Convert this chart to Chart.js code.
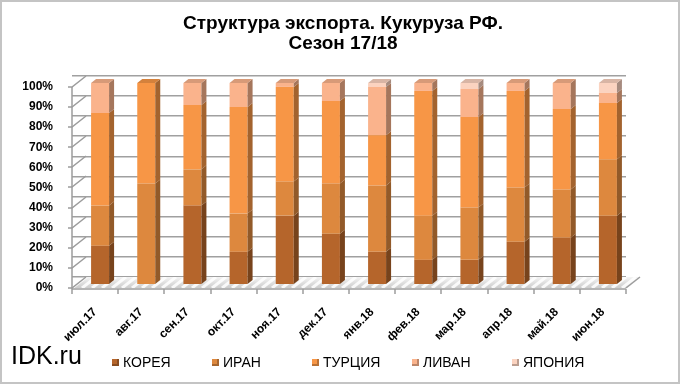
<!DOCTYPE html>
<html lang="ru">
<head>
<meta charset="UTF-8">
<title>Структура экспорта. Кукуруза РФ.</title>
<script src="https://cdn.jsdelivr.net/npm/chart.js"></script>
<style>
    body { margin: 0; background: #fff; }
    #wrap { position: relative; width: 680px; height: 384px; }
    #frame {
        position: absolute; left: 0; top: 0; width: 676px; height: 380px;
        border: 2px solid #c4c4c4; pointer-events: none;
    }
    #site {
        position: absolute; left: 11px; top: 341px;
        font-family: "Liberation Sans", Arial, sans-serif; font-size: 25px; color: #000;
    }
    #legend {
        position: absolute; left: 112px; top: 354px; display: flex;
        font-family: "Liberation Sans", Arial, sans-serif; font-size: 14px; color: #000;
    }
    #legend .item { width: 100px; display: flex; align-items: center; }
    #legend .box { width: 7px; height: 7px; margin-right: 4px; }
</style>
</head>
<body>
<div id="wrap">
    <canvas id="chart" width="680" height="384"></canvas>
    <div id="site">IDK.ru</div>
    <div id="legend"></div>
    <div id="frame"></div>
</div>
<script>
// данные (доли, %)
var months = ['июл.17', 'авг.17', 'сен.17', 'окт.17', 'ноя.17', 'дек.17', 'янв.18', 'фев.18', 'мар.18', 'апр.18', 'май.18', 'июн.18'];
var korea   = [19,  0, 39, 16, 34, 25, 16, 12, 12, 21, 23, 34];
var iran    = [20, 50, 18, 19, 17, 25, 33, 22, 26, 27, 24, 28];
var turkey  = [46, 50, 32, 53, 47, 41, 25, 62, 45, 48, 40, 28];
var lebanon = [15,  0, 11, 12,  2,  9, 24,  4, 14,  4, 13,  5];
var japan   = [ 0,  0,  0,  0,  0,  0,  2,  0,  3,  0,  0,  5];
var seriesNames = ['КОРЕЯ', 'ИРАН', 'ТУРЦИЯ', 'ЛИВАН', 'ЯПОНИЯ'];
var seriesColors = ['#B5652B', '#DD883E', '#F79646', '#FAB38C', '#FBD3C0'];
var yTicks = [0, 10, 20, 30, 40, 50, 60, 70, 80, 90, 100];

// глубина "3D"
var wallDx = 14, wallDy = -11;
var wallShift = 5.47;   // сдвиг задней стенки в единицах оси (≈11 px)
var barDx = 5, barDy = -4;

function shade(hex, k) {
    var r = parseInt(hex.substr(1, 2), 16), g = parseInt(hex.substr(3, 2), 16), b = parseInt(hex.substr(5, 2), 16);
    return 'rgb(' + Math.round(r * k) + ',' + Math.round(g * k) + ',' + Math.round(b * k) + ')';
}

function seg(ctx, pts) {
    ctx.beginPath();
    ctx.moveTo(pts[0][0], pts[0][1]);
    for (var i = 1; i < pts.length; i++) ctx.lineTo(pts[i][0], pts[i][1]);
    ctx.stroke();
}

// пол, косые связки сетки и оси — до столбцов
var wallPlugin = {
    id: 'wall3d',
    beforeDatasetsDraw: function (chart) {
        var ctx = chart.ctx, a = chart.chartArea, y = chart.scales.y;
        var y0 = Math.round(y.getPixelForValue(0));
        var left = Math.round(a.left), right = Math.round(a.right);
        ctx.save();
        // пол
        var floor = [[left, y0], [right, y0], [right + wallDx, y0 + wallDy], [left + wallDx, y0 + wallDy]];
        var grad = ctx.createLinearGradient(0, y0 + wallDy, 0, y0);
        grad.addColorStop(0, '#f4f4f4');
        grad.addColorStop(1, '#cccccc');
        ctx.save();
        ctx.beginPath();
        floor.forEach(function (p, i) { if (i) ctx.lineTo(p[0], p[1]); else ctx.moveTo(p[0], p[1]); });
        ctx.closePath();
        ctx.fillStyle = grad;
        ctx.fill();
        ctx.clip();
        ctx.strokeStyle = 'rgba(255,255,255,0.85)';
        ctx.lineWidth = 3;
        for (var sx = left - 20; sx < right + 30; sx += 10) {
            seg(ctx, [[sx, y0], [sx + 14, y0 + wallDy]]);
        }
        ctx.restore();
        ctx.strokeStyle = '#9c9c9c';
        ctx.lineWidth = 1.5;
        for (var k = 0; k < yTicks.length; k++) {
            var py = Math.round(y.getPixelForValue(yTicks[k]));
            seg(ctx, [[left - 4, py], [left, py], [left + wallDx, py + wallDy]]);
        }
        seg(ctx, [[right, y0], [right + wallDx, y0 + wallDy]]);
        // оси
        seg(ctx, [[left, Math.round(y.getPixelForValue(100))], [left, y0 + 1]]);
        seg(ctx, [[left, y0 + 1], [right, y0 + 1]]);
        var step = (a.right - a.left) / months.length;
        for (var i = 0; i <= months.length; i++) {
            var tx = Math.round(a.left + i * step);
            seg(ctx, [[tx, y0 + 1], [tx, y0 + 6]]);
        }
        ctx.restore();
    }
};

// боковые и верхние грани столбцов
var barPlugin = {
    id: 'bar3d',
    beforeDatasetsDraw: function (chart) {
        chart.ctx.save();
        chart.ctx.translate(barDx, barDy);
    },
    afterDatasetsDraw: function (chart) {
        var ctx = chart.ctx;
        var n = chart.data.datasets.length;
        months.forEach(function (m, i) {
            var topIdx = -1;
            for (var d = 0; d < n; d++) {
                if (chart.data.datasets[d].data[i] > 0) topIdx = d;
            }
            for (var d = 0; d < n; d++) {
                if (!(chart.data.datasets[d].data[i] > 0)) continue;
                var el = chart.getDatasetMeta(d).data[i];
                var r = el.x + el.width / 2, l = el.x - el.width / 2;
                ctx.fillStyle = shade(seriesColors[d], 0.66);
                ctx.beginPath();
                ctx.moveTo(r, el.y);
                ctx.lineTo(r + barDx, el.y + barDy);
                ctx.lineTo(r + barDx, el.base + barDy);
                ctx.lineTo(r, el.base);
                ctx.closePath();
                ctx.fill();
                if (d === topIdx) {
                    ctx.fillStyle = shade(seriesColors[d], 0.86);
                    ctx.beginPath();
                    ctx.moveTo(l, el.y);
                    ctx.lineTo(r, el.y);
                    ctx.lineTo(r + barDx, el.y + barDy);
                    ctx.lineTo(l + barDx, el.y + barDy);
                    ctx.closePath();
                    ctx.fill();
                }
            }
        });
        ctx.restore();
    }
};

var seriesData = [korea, iran, turkey, lebanon, japan];
var datasets = seriesNames.map(function (name, i) {
    return { label: name, data: seriesData[i], backgroundColor: seriesColors[i], borderWidth: 0 };
});

var ctx = document.getElementById('chart').getContext('2d');
new Chart(ctx, {
    type: 'bar',
    data: { labels: months, datasets: datasets },
    plugins: [wallPlugin, barPlugin],
    options: {
        responsive: false,
        animation: false,
        layout: { padding: { left: 6, right: 0, top: 0, bottom: 0 } },
        datasets: { bar: { categoryPercentage: 1, barPercentage: 0.39 } },
        plugins: {
            legend: { display: false },
            tooltip: { enabled: false },
            title: {
                display: true,
                text: ['Структура экспорта. Кукуруза РФ.', 'Сезон 17/18'],
                color: '#000',
                font: { family: '"Liberation Sans", Arial, sans-serif', size: 19, weight: 'bold', lineHeight: 1.05 },
                padding: { top: 14, bottom: 33 }
            }
        },
        scales: {
            x: {
                stacked: true,
                grid: { display: false },
                border: { display: false },
                ticks: {
                    color: '#000', maxRotation: 45, minRotation: 45, padding: 9,
                    font: { family: '"Liberation Sans", Arial, sans-serif', size: 12, weight: 'bold' }
                },
                afterFit: function (s) { s.height = 96; }
            },
            y: {
                stacked: true, min: 0, max: 100,
                grid: { display: false },
                border: { display: false },
                ticks: {
                    stepSize: 10, color: '#000', padding: 11,
                    font: { family: '"Liberation Sans", Arial, sans-serif', size: 12, weight: 'bold' },
                    callback: function (v) { return v + '%'; }
                },
                afterFit: function (s) { s.width = 66; }
            },
            // вспомогательная ось: её сетка — линии задней стенки (сдвинуты вверх)
            yw: {
                position: 'left',
                min: -wallShift, max: 100 - wallShift,
                grid: { display: true, color: '#a0a0a0', lineWidth: 1.5, drawTicks: false },
                border: { display: false },
                ticks: { display: false },
                afterBuildTicks: function (s) { s.ticks = yTicks.map(function (v) { return { value: v }; }); },
                afterFit: function (s) { s.width = 0; }
            },
            // пустая правая ось — только резервирует место справа
            yr: {
                position: 'right',
                grid: { display: false },
                border: { display: false },
                ticks: { display: false },
                afterFit: function (s) { s.width = 54; }
            }
        }
    }
});

// легенда
var legend = document.getElementById('legend');
seriesNames.forEach(function (name, i) {
    var item = document.createElement('div');
    item.className = 'item';
    item.innerHTML = '<span class="box" style="background:' + seriesColors[i] + ';box-shadow: inset -2px -2px 0 ' + shade(seriesColors[i], 0.75) + '"></span>' + name;
    legend.appendChild(item);
});
</script>
</body>
</html>
